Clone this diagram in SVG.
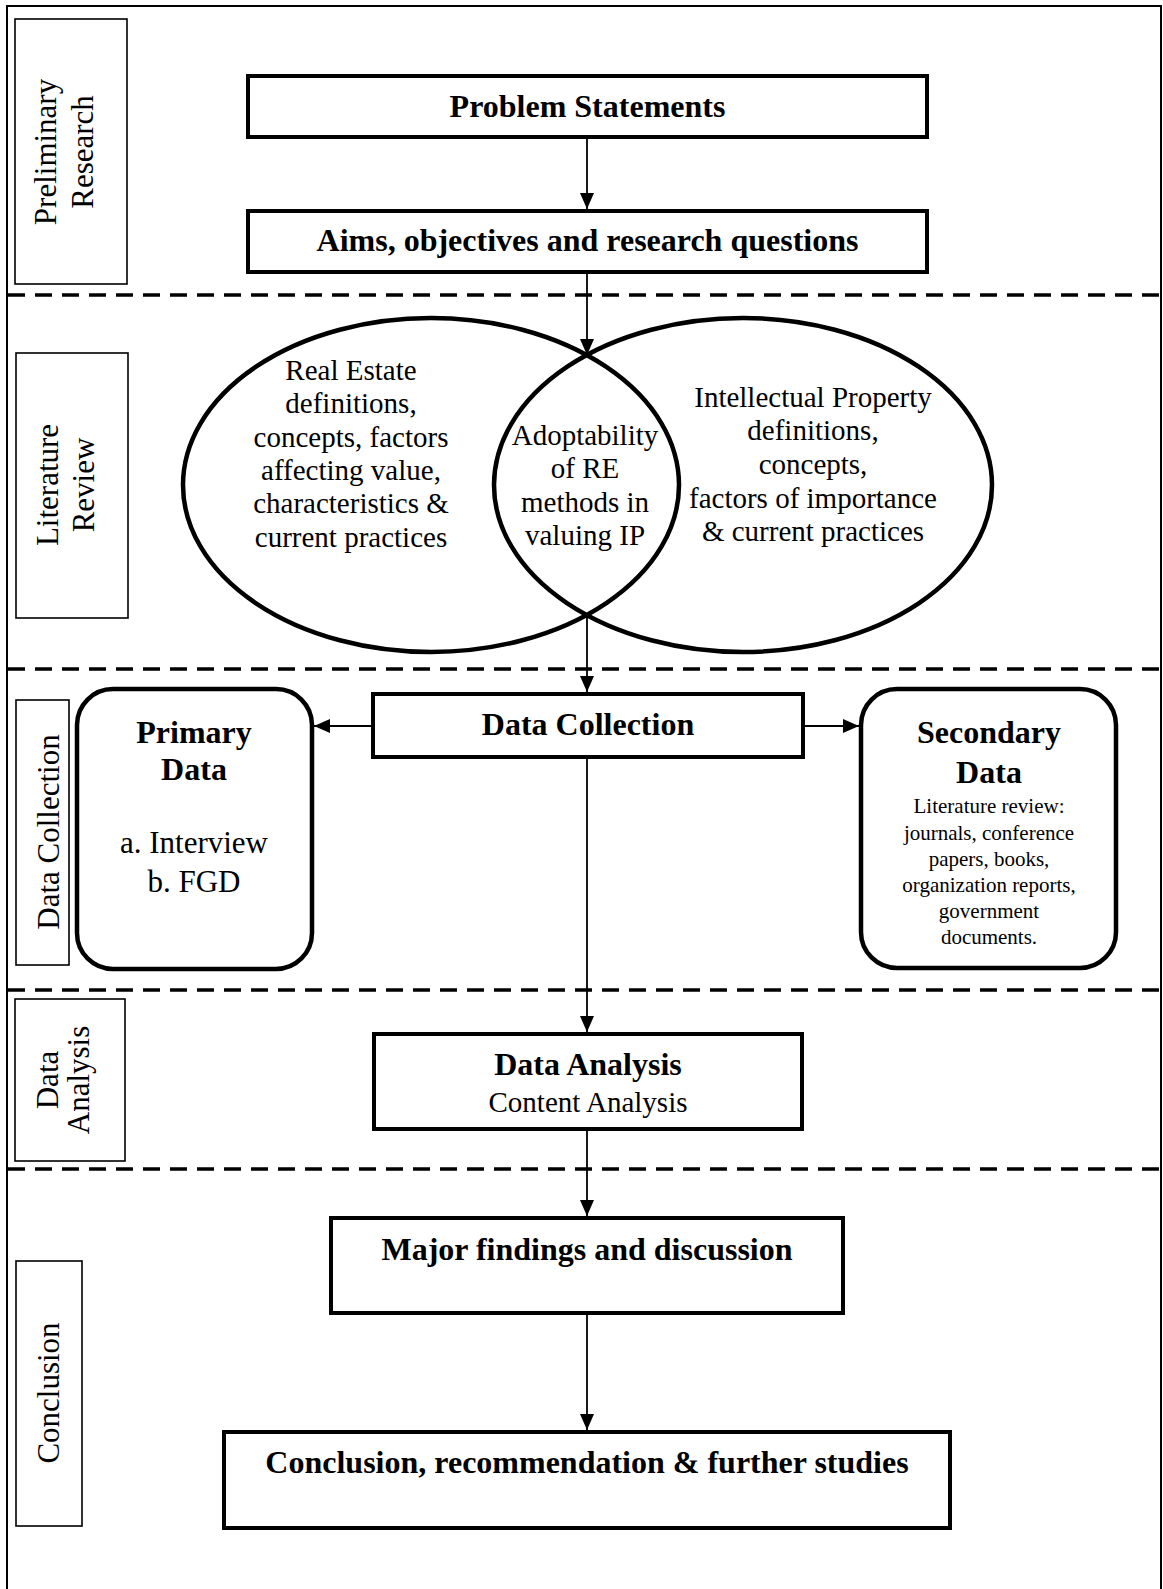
<svg xmlns="http://www.w3.org/2000/svg" width="1163" height="1589" viewBox="0 0 1163 1589">
<style>
text{font-family:"Liberation Serif","Times New Roman",serif;fill:#000;text-anchor:middle}
.b{font-weight:bold;font-size:32px}
.r{font-size:31px}
.e{font-size:29px}
.s{font-size:21px}
.lab{font-size:31px}
.box{fill:#fff;stroke:#000;stroke-width:4}
.lbox{fill:none;stroke:#000;stroke-width:1.6}
.rbox{fill:#fff;stroke:#000;stroke-width:4.5}
.dash{stroke:#000;stroke-width:3.5;stroke-dasharray:17 10;fill:none}
.con{stroke:#000;stroke-width:1.8;fill:none;marker-end:url(#ah)}
.ell{fill:none;stroke:#000;stroke-width:4.5}
</style>
<defs>
<marker id="ah" viewBox="0 0 16 14" refX="16" refY="7" markerWidth="16" markerHeight="14" markerUnits="userSpaceOnUse" orient="auto">
<path d="M0,0 L16,7 L0,14 Z" fill="#000"/>
</marker>
</defs>
<rect x="0" y="0" width="1163" height="1589" fill="#fff"/>
<path d="M7,1590 V6 H1161 V1590" fill="none" stroke="#000" stroke-width="2"/>

<g id="separators">
<line class="dash" x1="8" y1="295" x2="1160" y2="295"/>
<line class="dash" x1="8" y1="669" x2="1160" y2="669"/>
<line class="dash" x1="8" y1="990" x2="1160" y2="990"/>
<line class="dash" x1="8" y1="1169" x2="1160" y2="1169"/>
</g>

<g id="lane-preliminary">
<rect class="lbox" x="15" y="19" width="112" height="265"/>
<text class="lab" transform="translate(56,152) rotate(-90)">Preliminary</text>
<text class="lab" transform="translate(93,152) rotate(-90)">Research</text>
</g>
<g id="lane-literature">
<rect class="lbox" x="16" y="353" width="112" height="265"/>
<text class="lab" transform="translate(58,485) rotate(-90)">Literature</text>
<text class="lab" transform="translate(94,485) rotate(-90)">Review</text>
</g>
<g id="lane-collection">
<rect class="lbox" x="16" y="700" width="53" height="265"/>
<text class="lab" transform="translate(59,832) rotate(-90)">Data Collection</text>
</g>
<g id="lane-analysis">
<rect class="lbox" x="15" y="999" width="110" height="162"/>
<text class="lab" transform="translate(58,1080) rotate(-90)">Data</text>
<text class="lab" transform="translate(89,1080) rotate(-90)">Analysis</text>
</g>
<g id="lane-conclusion">
<rect class="lbox" x="16" y="1261" width="66" height="265"/>
<text class="lab" transform="translate(59,1393) rotate(-90)">Conclusion</text>
</g>

<g id="connectors">
<line class="con" x1="587" y1="139" x2="587" y2="209"/>
<line class="con" x1="587" y1="274" x2="587" y2="355"/>
<line class="con" x1="587" y1="615" x2="587" y2="692"/>
<line class="con" x1="587" y1="759" x2="587" y2="1032"/>
<line class="con" x1="587" y1="1131" x2="587" y2="1216"/>
<line class="con" x1="587" y1="1315" x2="587" y2="1430"/>
<line class="con" x1="372" y1="726" x2="314" y2="726"/>
<line class="con" x1="804" y1="726" x2="859" y2="726"/>
</g>

<g id="problem-statements">
<rect class="box" x="248" y="76" width="679" height="61"/>
<text class="b" x="587.5" y="117">Problem Statements</text>
</g>
<g id="aims">
<rect class="box" x="248" y="211" width="679" height="61"/>
<text class="b" x="587.5" y="251">Aims, objectives and research questions</text>
</g>

<g id="venn">
<ellipse class="ell" cx="431" cy="485" rx="248" ry="167"/>
<ellipse class="ell" cx="743" cy="485" rx="249" ry="167"/>
</g>
<g id="real-estate">
<text class="e" x="351" y="380">Real Estate</text>
<text class="e" x="351" y="413">definitions,</text>
<text class="e" x="351" y="447">concepts, factors</text>
<text class="e" x="351" y="480">affecting value,</text>
<text class="e" x="351" y="513">characteristics &amp;</text>
<text class="e" x="351" y="547">current practices</text>
</g>
<g id="intellectual-property">
<text class="e" x="813" y="407">Intellectual Property</text>
<text class="e" x="813" y="440">definitions,</text>
<text class="e" x="813" y="474">concepts,</text>
<text class="e" x="813" y="508">factors of importance</text>
<text class="e" x="813" y="541">&amp; current practices</text>
</g>
<g id="adoptability">
<text class="e" x="585" y="445">Adoptability</text>
<text class="e" x="585" y="478">of RE</text>
<text class="e" x="585" y="512">methods in</text>
<text class="e" x="585" y="545">valuing IP</text>
</g>

<g id="data-collection">
<rect class="box" x="373" y="694" width="430" height="63"/>
<text class="b" x="588" y="735">Data Collection</text>
</g>
<g id="primary-data">
<rect class="rbox" x="77" y="689" width="235" height="280" rx="36" ry="36"/>
<text class="b" x="194" y="743">Primary</text>
<text class="b" x="194" y="780">Data</text>
<text class="r" x="194" y="853">a. Interview</text>
<text class="r" x="194" y="892">b. FGD</text>
</g>
<g id="secondary-data">
<rect class="rbox" x="861" y="689" width="255" height="279" rx="36" ry="36"/>
<text class="b" x="989" y="743">Secondary</text>
<text class="b" x="989" y="783">Data</text>
<text class="s" x="989" y="813">Literature review:</text>
<text class="s" x="989" y="840">journals, conference</text>
<text class="s" x="989" y="866">papers, books,</text>
<text class="s" x="989" y="892">organization reports,</text>
<text class="s" x="989" y="918">government</text>
<text class="s" x="989" y="944">documents.</text>
</g>

<g id="data-analysis">
<rect class="box" x="374" y="1034" width="428" height="95"/>
<text class="b" x="588" y="1075">Data Analysis</text>
<text class="e" x="588" y="1112">Content Analysis</text>
</g>
<g id="major-findings">
<rect class="box" x="331" y="1218" width="512" height="95"/>
<text class="b" x="587" y="1260">Major findings and discussion</text>
</g>
<g id="conclusion">
<rect class="box" x="224" y="1432" width="726" height="96"/>
<text class="b" x="587" y="1473">Conclusion, recommendation &amp; further studies</text>
</g>
</svg>
